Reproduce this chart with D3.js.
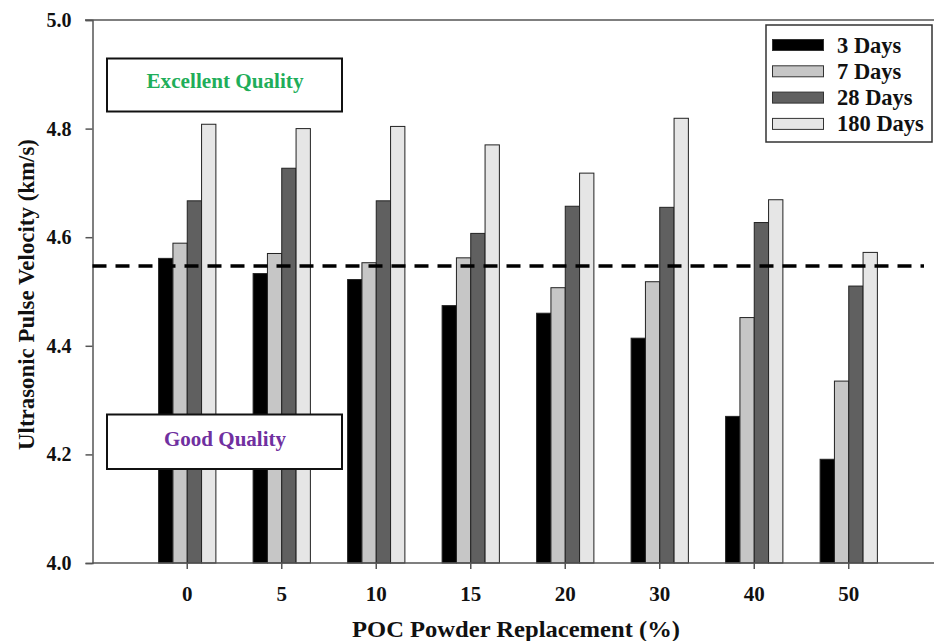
<!DOCTYPE html>
<html><head><meta charset="utf-8">
<script src="https://cdn.jsdelivr.net/npm/d3@7"></script>
<style>
html,body{margin:0;padding:0;background:#fff;}
svg{display:block;}
text{font-family:"Liberation Serif","Times New Roman",serif;font-weight:bold;}
</style></head>
<body>
<svg id="chart" width="934" height="641"></svg>
<script>
const categories = ["0","5","10","15","20","30","40","50"];
const seriesNames = ["3 Days","7 Days","28 Days","180 Days"];
const days3   = [4.561,4.533,4.522,4.474,4.460,4.414,4.270,4.191];
const days7   = [4.589,4.570,4.553,4.562,4.507,4.518,4.452,4.335];
const days28  = [4.667,4.727,4.667,4.607,4.657,4.655,4.627,4.510];
const days180 = [4.808,4.800,4.804,4.770,4.718,4.819,4.669,4.572];
const threshold = 4.547;
const yTicks = [4.0,4.2,4.4,4.6,4.8,5.0];
const seriesColors = ["#000000","#c6c6c6","#606060","#e6e6e6"];
const xTitle = "POC Powder Replacement (%)";
const yTitle = "Ultrasonic Pulse Velocity (km/s)";
const qualityLabels = ["Excellent Quality","Good Quality"];
const qualityColors = ["#1fae5a","#7030a0"];

(function(){
const allSeries = [days3, days7, days28, days180];
const svg = d3.select("#chart");

const pL = 92.5, pR = 934, pT = 20, pB = 563;
const y = d3.scaleLinear().domain([4.0,5.0]).range([pB, pT]);
const x0 = d3.scaleBand().domain(categories).range([140,896]).paddingInner(0.394).paddingOuter(0.197);
const x1 = d3.scaleBand().domain(seriesNames).range([0, x0.bandwidth()]);

// bars
const groups = svg.append("g").selectAll("g").data(categories).join("g")
  .attr("transform", d => `translate(${x0(d)},0)`);
groups.selectAll("rect").data((c,i) => seriesNames.map((s,j)=>({s, v: allSeries[j][i], j})))
  .join("rect")
  .attr("x", d => x1(d.s))
  .attr("y", d => y(d.v))
  .attr("width", x1.bandwidth())
  .attr("height", d => pB - y(d.v))
  .attr("fill", d => seriesColors[d.j])
  .attr("stroke", "#222")
  .attr("stroke-width", 1);

// frame: top line
svg.append("line").attr("x1",85).attr("x2",pR).attr("y1",pT).attr("y2",pT)
  .attr("stroke","#555").attr("stroke-width",1.5);

// y axis
const yAxis = d3.axisLeft(y).tickValues(yTicks).tickFormat(d3.format(".1f")).tickSize(7).tickPadding(14);
const gy = svg.append("g").attr("transform",`translate(${pL},0)`).call(yAxis);
gy.select(".domain").attr("stroke","#555").attr("stroke-width",1.5);
gy.selectAll(".tick line").attr("stroke","#555").attr("stroke-width",1.5);
gy.selectAll(".tick text").attr("font-size",20).attr("fill","#111")
  .style("font-family","'Liberation Serif',serif").style("font-weight","bold");

// x axis
const xAxis = d3.axisBottom(x0).tickSize(6).tickPadding(17).tickSizeOuter(0);
const gx = svg.append("g").attr("transform",`translate(0,${pB})`).call(xAxis);
gx.select(".domain").attr("d", `M${pL},0H${pR}`).attr("stroke","#555").attr("stroke-width",1.5);
gx.selectAll(".tick line").attr("stroke","#555").attr("stroke-width",1.5);
gx.selectAll(".tick text").attr("font-size",21).attr("fill","#111")
  .style("font-family","'Liberation Serif',serif").style("font-weight","bold");

// threshold dashed line
svg.append("line").attr("x1",pL).attr("x2",924).attr("y1",y(threshold)).attr("y2",y(threshold))
  .attr("stroke","#000").attr("stroke-width",3.4).attr("stroke-dasharray","14,9");

// quality boxes
const boxes = [{y0:58.5, y1:111.5, base:87.5, w:157},{y0:414.5, y1:469, base:445.5, w:122}];
boxes.forEach((b,i)=>{
  svg.append("rect").attr("x",107).attr("y",b.y0).attr("width",235).attr("height",b.y1-b.y0)
    .attr("fill","#fff").attr("stroke","#111").attr("stroke-width",2);
  svg.append("text").attr("x",225).attr("y",b.base).attr("text-anchor","middle")
    .attr("font-size",21).attr("textLength",b.w).attr("lengthAdjust","spacingAndGlyphs")
    .attr("fill",qualityColors[i]).text(qualityLabels[i]);
});

// legend
const lg = svg.append("g");
lg.append("rect").attr("x",766).attr("y",25).attr("width",166).attr("height",117)
  .attr("fill","#fff").attr("stroke","#333").attr("stroke-width",1.5);
seriesNames.forEach((s,i)=>{
  const cy = 45 + i*26.3;
  lg.append("rect").attr("x",772.5).attr("y",cy-5.5).attr("width",51).attr("height",11)
    .attr("fill",seriesColors[i]).attr("stroke","#333").attr("stroke-width",1);
  lg.append("text").attr("x",837).attr("y",cy+7.5).attr("font-size",22.5).attr("fill","#111").text(s);
});

// titles
svg.append("text").attr("x",516).attr("y",637).attr("text-anchor","middle")
  .attr("font-size",23.5).attr("textLength",328).attr("lengthAdjust","spacingAndGlyphs")
  .attr("fill","#111").text(xTitle);
svg.append("text").attr("transform","translate(34,294.5) rotate(-90)").attr("text-anchor","middle")
  .attr("font-size",23.5).attr("textLength",311).attr("lengthAdjust","spacingAndGlyphs")
  .attr("fill","#111").text(yTitle);
})();
</script>
</body></html>
